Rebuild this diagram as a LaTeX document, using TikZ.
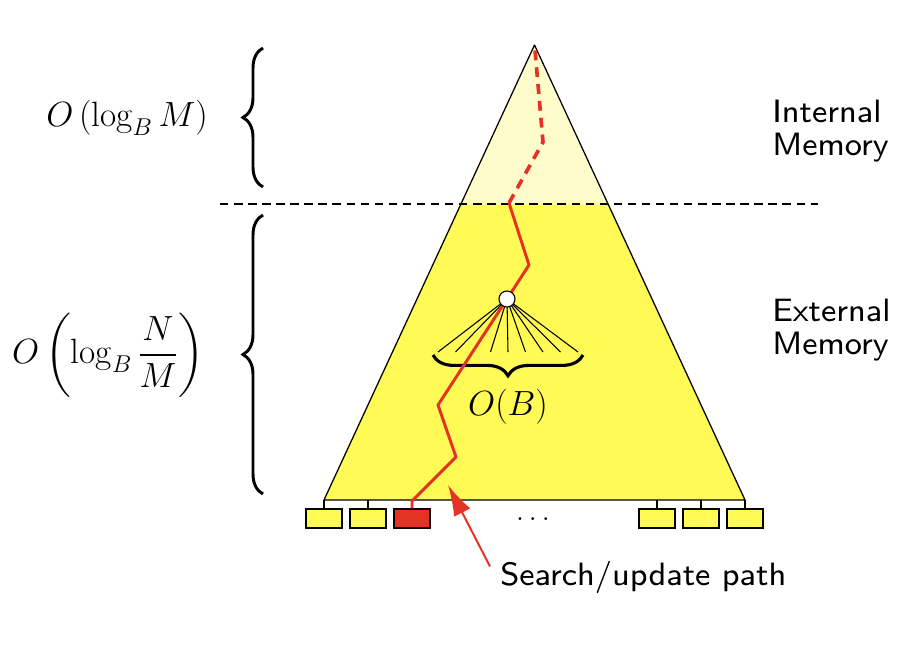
\documentclass[tikz,border=0pt]{standalone}
\usepackage{amsmath,amssymb}
\usepackage{fontspec}
\usepackage{tikz}
\usetikzlibrary{arrows.meta,positioning,calc,decorations.pathreplacing}
\newfontfamily\slidesans{lmsans8-regular.otf}
\definecolor{treeyellow}{RGB}{255,250,85}
\definecolor{treepale}{RGB}{255,252,204}
\definecolor{pathred}{RGB}{228,50,36}

\begin{document}
\begin{tikzpicture}[
  x=0.025cm, y=-0.025cm,
  >=Latex,
  leaf/.style={draw=black, fill=treeyellow, line width=0.9pt, minimum width=0.9cm, minimum height=0.475cm, inner sep=0pt},
  searchpath/.style={draw=pathred, line width=2.1pt, line join=round},
  bigbrace/.style={decorate, decoration={brace, amplitude=0.5cm}, line width=2.1pt},
  memlabel/.style={font=\slidesans\fontsize{23}{23}\selectfont, align=left, inner sep=0pt},
  costlabel/.style={font=\fontsize{25}{29}\selectfont, inner sep=0pt}
]
  \useasboundingbox (0,0) rectangle (922,646);

  % Tree outline
  \coordinate (apex) at (534.5,45);
  \coordinate (bl) at (324,500);
  \coordinate (br) at (745,500);
  \coordinate (ml) at (460.9,204);
  \coordinate (mr) at (608.1,204);
  \fill[treeyellow] (bl) -- (br) -- (mr) -- (ml) -- cycle;
  \fill[treepale] (ml) -- (mr) -- (apex) -- cycle;
  \draw[line width=0.9pt, line join=round] (bl) -- (apex) -- (br) -- cycle;

  % Memory boundary
  \coordinate (cutL) at (220,204);
  \coordinate (cutR) at (818,204);
  \draw[line width=0.8pt, dash pattern=on 6pt off 4pt] (cutL) -- (cutR);

  % Leaf blocks
  \foreach \x/\n in {324/1,368/2,412/3,657/4,701/5,745/6}{
    \node[leaf] (leaf\n) at (\x,518.5) {};
    \draw[line width=0.8pt] (leaf\n.north) -- (\x,500);
  }
  \node[leaf, fill=pathred] at (leaf3) {};
  \node[font=\fontsize{20}{24}\selectfont] (dots) at (533,519) {$\ldots$};

  % Fan of one node
  \coordinate (knot) at (507,299);
  \foreach \i in {0,...,8}
    \draw[line width=0.75pt] (knot) -- (438+17.5*\i,352);
  \draw[decorate, decoration={brace, amplitude=0.52cm}, line width=2.2pt] (583,355) -- (433,355);
  \node[costlabel] (fanout) at (508,407) {$O(B)$};

  % Path edges
  \coordinate (p1) at (412,501);
  \coordinate (p2) at (456,457);
  \coordinate (p3) at (438,405);
  \coordinate (p4) at (529,265);
  \coordinate (p5) at (509,203);
  \coordinate (p6) at (543,142);
  \coordinate (p7) at (535,50);
  \draw[searchpath] (leaf3.north) -- (p1) -- (p2) -- (p3) -- (knot) -- (p4) -- (p5);
  \draw[searchpath, line width=2.6pt, dash pattern=on 7pt off 5pt] (p5) -- (p6) -- (p7);
  \node[circle, draw=black, fill=white, line width=0.8pt, minimum size=0.4cm, inner sep=0pt] (root) at (knot) {};

  % Level braces
  \draw[bigbrace] (263,187) -- (263,48);
  \draw[bigbrace] (263,494) -- (263,215);
  \node[costlabel] (upper) at (127,118) {$O\left(\log_B M\right)$};
  \node[costlabel] (lower) at (108,355) {$\displaystyle O\left(\log_B \frac{N}{M}\right)$};

  % Memory labels
  \node[memlabel, anchor=base west] (internal) at (772,155) {Internal\\Memory};
  \node[memlabel, anchor=base west] (external) at (772,354) {External\\Memory};

  % Annotation
  \node[memlabel, anchor=base west] (search) at (500,585) {Search/update path};
  \coordinate (hit) at (448,485);
  \draw[->, pathred, line width=1.4pt, arrows={-Latex[length=22pt, width=13pt]}] ([shift={(-10,6)}]search.north west) -- (hit);
\end{tikzpicture}
\end{document}
